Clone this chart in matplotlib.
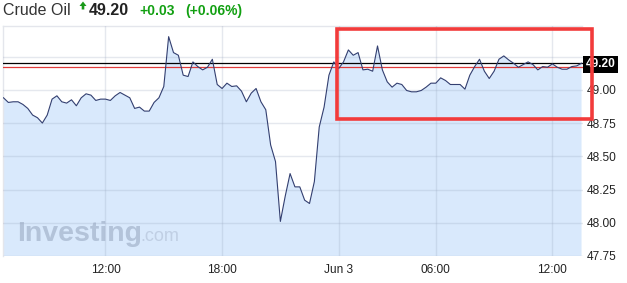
import numpy as np
import matplotlib
matplotlib.use("Agg")
import matplotlib.pyplot as plt
from matplotlib.patches import Rectangle, Polygon

# Crude Oil, 15-min samples, x in trading hours from Jun 2 12:00 (one idle hour skipped)
prices = [
    48.94, 48.905, 48.91, 48.91, 48.89, 48.86, 48.81, 48.79, 48.75, 48.81,
    48.93, 48.955, 48.91, 48.90, 48.925, 48.88, 48.94, 48.97, 48.96, 48.92,
    48.93, 48.93, 48.92, 48.955, 48.98, 48.96, 48.94, 48.86, 48.87, 48.84,
    48.84, 48.905, 48.94, 49.025,
    49.40, 49.28, 49.26, 49.11, 49.10, 49.21, 49.175, 49.15, 49.17, 49.23,
    49.04, 49.01, 49.05, 49.025, 49.03, 48.99, 48.91, 48.975, 49.01, 48.91,
    48.85, 48.585, 48.46, 48.01, 48.20, 48.37, 48.27, 48.27, 48.17, 48.145,
    48.31, 48.72, 48.87, 49.11, 49.21, 49.16, 49.21, 49.30, 49.26, 49.28,
    49.15, 49.155, 49.14, 49.33, 49.15, 49.06, 49.02, 49.05, 49.04, 48.995,
    48.985, 48.985, 48.995, 49.02, 49.05, 49.05, 49.09, 49.07, 49.04, 49.04,
    49.04, 49.005, 49.11, 49.175, 49.23, 49.14, 49.085, 49.14, 49.23, 49.255,
    49.225, 49.20, 49.17, 49.19, 49.21, 49.19, 49.15, 49.175, 49.17, 49.195,
    49.17, 49.155, 49.155, 49.175, 49.18, 49.20,
]
start_hour = -5.25
step_hour = 0.25
last_price = 49.20
prev_close = 49.17
change = "+0.03"
change_pct = "(+0.06%)"

tick_hours = [0, 6, 12, 17, 23]
tick_labels = ["12:00", "18:00", "Jun 3", "06:00", "12:00"]
y_ticks = [47.75, 48.00, 48.25, 48.50, 48.75, 49.00, 49.25]

plt.rcParams['font.family'] = ['Liberation Sans', 'DejaVu Sans']

W, H = 627, 283
fig = plt.figure(figsize=(W / 100, H / 100), dpi=100)


def fx(px):
    return px / W


def fy(py):
    return 1 - py / H


ax = fig.add_axes([fx(3), fy(256), (582.5 - 3) / W, (256 - 26) / H])

hours = start_hour + step_hour * np.arange(len(prices))
ax.fill_between(hours, prices, 47.0, color='#d9e9fc', lw=0, zorder=1)
ax.plot(hours, prices, color='#333f70', lw=0.8, zorder=4)

ax.axhline(last_price, color='black', lw=0.9, zorder=3)
ax.axhline(prev_close, color='#e03a3a', lw=0.9, zorder=3)

ax.set_xlim(-5.275, 24.55)
ax.set_ylim(47.75, 49.48)
ax.set_xticks(tick_hours)
ax.set_xticklabels(tick_labels)
ax.set_yticks(y_ticks)
ax.set_yticklabels([f"{v:.2f}" for v in y_ticks[:-1]] + [""])
ax.yaxis.tick_right()
ax.tick_params(axis='both', length=0, labelsize=8.6, colors='#222222')
ax.tick_params(axis='x', pad=6)
ax.tick_params(axis='y', pad=3)
ax.grid(True, color=(0.6, 0.65, 0.75), alpha=0.25, lw=1.0, zorder=2)
ax.set_axisbelow(False)
for s in ['right', 'bottom']:
    ax.spines[s].set_visible(False)
for s in ['top', 'left']:
    ax.spines[s].set_color('#e4e6ec')
    ax.spines[s].set_linewidth(1.0)

# watermark
ax.text(0.024, 0.065, "Investing", transform=ax.transAxes, fontsize=20.5,
        fontweight='bold', color='#b3c3d9', zorder=1.5)
ax.text(0.237, 0.065, ".com", transform=ax.transAxes, fontsize=13,
        color='#c0cfe4', zorder=1.5)

# current price box
fig.text(fx(585.5), fy(64.3), f"{last_price:.2f}", ha='left', va='center', fontsize=8.6,
         fontweight='bold', color='white',
         bbox=dict(boxstyle='square,pad=0.2', fc='black', ec='none'), zorder=6)

# header
fig.text(fx(3), fy(15), "Crude Oil", fontsize=11.5, color='#333333', va='baseline')
arrow = Polygon([(fx(79.5), fy(6)), (fx(83), fy(1.5)), (fx(86.5), fy(6)), (fx(84.3), fy(6)),
                 (fx(84.3), fy(9.5)), (fx(81.7), fy(9.5)), (fx(81.7), fy(6))],
                closed=True, transform=fig.transFigure, fc='#1a9a1a', ec='none')
fig.patches.append(arrow)
fig.text(fx(88.5), fy(15), f"{last_price:.2f}", fontsize=11.5, fontweight='bold',
         color='#222222', va='baseline')
fig.text(fx(139.5), fy(15), change, fontsize=10, fontweight='bold', color='#12a012', va='baseline')
fig.text(fx(185), fy(15), change_pct, fontsize=10, fontweight='bold', color='#12a012', va='baseline')

# red highlight box
fig.patches.append(Rectangle((fx(337), fy(118.5)), fx(591.5) - fx(337), fy(28.5) - fy(118.5),
                             transform=fig.transFigure, fill=False, ec='#f23b3b', lw=2.6,
                             zorder=10))

fig.savefig("out.png", dpi=100)
